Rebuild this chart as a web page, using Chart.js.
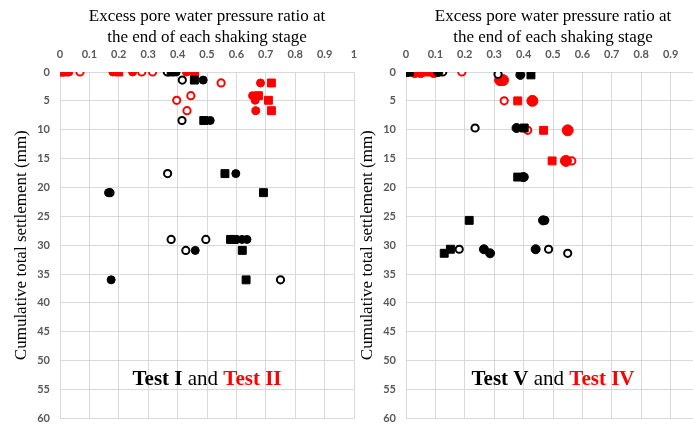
<!DOCTYPE html>
<html>
<head>
<meta charset="utf-8">
<script src="https://cdn.jsdelivr.net/npm/chart.js@4"></script>
<style>
    body { margin: 0; width: 693px; height: 425px; overflow: hidden; position: relative; background: #fff; }
    canvas { position: absolute; top: 0; }
</style>
</head>
<body>
<canvas id="leftChart" width="362" height="425" style="left:0"></canvas>
<canvas id="rightChart" width="362" height="425" style="left:346px"></canvas>
<script>
// Tick labels
const ratioTicks = ['0', '0.1', '0.2', '0.3', '0.4', '0.5', '0.6', '0.7', '0.8', '0.9', '1'];
const settlementTicks = ['0', '5', '10', '15', '20', '25', '30', '35', '40', '45', '50', '55', '60'];

// Test I (black) - excess pore pressure ratio vs settlement (mm)
const test1FilledX = [0.395, 0.487, 0.511, 0.598, 0.165, 0.619, 0.636, 0.46, 0.174];
const test1FilledY = [0, 1.4, 8.4, 17.6, 20.9, 29.0, 29.0, 30.9, 36.0];
const test1SquareX = [0.378, 0.457, 0.489, 0.561, 0.692, 0.58, 0.593, 0.62, 0.633];
const test1SquareY = [0, 1.4, 8.4, 17.6, 20.9, 29.0, 29.0, 30.9, 36.0];
const test1OpenX = [0.365, 0.416, 0.415, 0.366, 0.17, 0.378, 0.496, 0.428, 0.75];
const test1OpenY = [0, 1.4, 8.4, 17.6, 20.9, 29.0, 29.0, 30.9, 36.0];

// Test II (red)
const test2FilledX = [0.03, 0.18, 0.247, 0.43, 0.682, 0.655, 0.664, 0.666];
const test2FilledY = [0, 0, 0, 0, 1.9, 4.1, 4.9, 6.7];
const test2SquareX = [0.0, 0.015, 0.2, 0.458, 0.719, 0.675, 0.709, 0.719];
const test2SquareY = [0, 0, 0, 0, 1.9, 4.1, 4.9, 6.7];
const test2OpenX = [0.068, 0.278, 0.315, 0.548, 0.445, 0.397, 0.432];
const test2OpenY = [0, 0, 0, 1.9, 4.1, 4.9, 6.7];

// Test V (black)
const test5FilledX = [0.005, 0.11, 0.389, 0.376, 0.399, 0.466, 0.265, 0.441, 0.286];
const test5FilledY = [0, 0, 0.5, 9.7, 18.2, 25.7, 30.7, 30.7, 31.4];
const test5SquareX = [0.012, 0.425, 0.402, 0.38, 0.215, 0.151, 0.13];
const test5SquareY = [0, 0.5, 9.7, 18.2, 25.7, 30.7, 31.4];
const test5OpenX = [0.125, 0.313, 0.235, 0.402, 0.472, 0.181, 0.485, 0.55];
const test5OpenY = [0, 0.4, 9.7, 18.2, 25.7, 30.7, 30.7, 31.4];

// Test IV (red)
const test4FilledX = [0.03, 0.05, 0.095, 0.32, 0.33, 0.43, 0.55, 0.544];
const test4FilledY = [0, 0, 0, 1.4, 1.4, 5.0, 10.1, 15.4];
const test4SquareX = [0.015, 0.06, 0.085, 0.38, 0.468, 0.497];
const test4SquareY = [0, 0, 0, 5.0, 10.1, 15.4];
const test4OpenX = [0.19, 0.334, 0.414, 0.564];
const test4OpenY = [0, 5.0, 10.1, 15.4];

const gridColor = '#d9d9d9';
const tickColor = '#595959';
const serif = '"Liberation Serif", "Times New Roman", serif';

function points(xs, ys) {
    return xs.map((x, i) => ({ x: x, y: ys[i] }));
}

// pick the label whose number matches the tick value
function tickLabel(labels, value) {
    const found = labels.find(t => Math.abs(Number(t) - value) < 1e-6);
    return found === undefined ? '' : found;
}

function filledSeries(label, xs, ys, color, radius) {
    return {
        label: label,
        data: points(xs, ys),
        pointStyle: 'circle',
        pointRadius: radius || 4,
        backgroundColor: color,
        borderColor: color,
        borderWidth: 1
    };
}

function squareSeries(label, xs, ys, color) {
    return {
        label: label,
        data: points(xs, ys),
        pointStyle: 'rect',
        pointRadius: 5.6,
        backgroundColor: color,
        borderColor: color,
        borderWidth: 1
    };
}

function openSeries(label, xs, ys, color) {
    return {
        label: label,
        data: points(xs, ys),
        pointStyle: 'circle',
        pointRadius: 3.6,
        backgroundColor: '#ffffff',
        borderColor: color,
        borderWidth: 2
    };
}

// Draws "Test X and Test Y" inside the plot
const testLabelPlugin = {
    id: 'testLabel',
    afterDraw(chart, args, opts) {
        const ctx = chart.ctx;
        const parts = [
            { text: opts.first, bold: true, color: '#000' },
            { text: ' and ', bold: false, color: '#000' },
            { text: opts.second, bold: true, color: '#ff0000' }
        ];
        ctx.save();
        ctx.textBaseline = 'middle';
        let total = 0;
        parts.forEach(p => {
            ctx.font = (p.bold ? 'bold ' : '') + '21px ' + serif;
            p.width = ctx.measureText(p.text).width;
            total += p.width;
        });
        let x = chart.scales.x.getPixelForValue(0.5) - total / 2;
        const y = chart.scales.y.getPixelForValue(53.2);
        parts.forEach(p => {
            ctx.font = (p.bold ? 'bold ' : '') + '21px ' + serif;
            ctx.fillStyle = p.color;
            ctx.fillText(p.text, x, y);
            x += p.width;
        });
        ctx.restore();
    }
};

function createPanel(canvasId, datasets, first, second) {
    const ctx = document.getElementById(canvasId).getContext('2d');
    return new Chart(ctx, {
        type: 'scatter',
        data: { datasets: datasets },
        plugins: [testLabelPlugin],
        options: {
            responsive: false,
            animation: false,
            layout: { padding: { left: 0, right: 8, top: 0, bottom: 5 } },
            plugins: {
                legend: { display: false },
                tooltip: { enabled: false },
                testLabel: { first: first, second: second }
            },
            scales: {
                x: {
                    type: 'linear',
                    position: 'top',
                    min: 0,
                    max: 1,
                    afterFit: (scale) => {
                        scale.height = 72;
                        scale.paddingLeft = 0;
                        scale.paddingRight = 0;
                    },
                    ticks: {
                        stepSize: 0.1,
                        autoSkip: false,
                        maxRotation: 0,
                        padding: 11,
                        color: tickColor,
                        font: { family: 'Lato', weight: 'bold', size: 11 },
                        callback: (value) => tickLabel(ratioTicks, value)
                    },
                    grid: { color: gridColor, lineWidth: 1, drawTicks: false },
                    border: { color: gridColor },
                    title: {
                        display: true,
                        text: ['Excess pore water pressure ratio at', 'the end of each shaking stage'],
                        color: '#000',
                        font: { family: serif, size: 17, lineHeight: 1.18 },
                        padding: { top: 7, bottom: 0 }
                    }
                },
                y: {
                    type: 'linear',
                    reverse: true,
                    min: 0,
                    max: 60,
                    afterFit: (scale) => {
                        scale.width = 60;
                        scale.paddingTop = 0;
                        scale.paddingBottom = 0;
                    },
                    ticks: {
                        stepSize: 5,
                        autoSkip: false,
                        padding: 10,
                        color: tickColor,
                        font: { family: 'Lato', weight: 'bold', size: 11 },
                        callback: (value) => tickLabel(settlementTicks, value)
                    },
                    grid: { color: gridColor, lineWidth: 1, drawTicks: false },
                    border: { color: gridColor },
                    title: {
                        display: true,
                        text: 'Cumulative total settlement (mm)',
                        color: '#000',
                        font: { family: serif, size: 17, lineHeight: 1.18 },
                        padding: { top: 12, bottom: 0 }
                    }
                }
            }
        }
    });
}

// first dataset in the list ends up drawn on top
document.addEventListener('DOMContentLoaded', () => {
    createPanel('leftChart', [
        filledSeries('Test I', test1FilledX, test1FilledY, '#000'),
        squareSeries('Test I', test1SquareX, test1SquareY, '#000'),
        openSeries('Test I', test1OpenX, test1OpenY, '#000'),
        filledSeries('Test II', test2FilledX, test2FilledY, '#ff0000'),
        squareSeries('Test II', test2SquareX, test2SquareY, '#ff0000'),
        openSeries('Test II', test2OpenX, test2OpenY, '#ff0000')
    ], 'Test I', 'Test II');

    createPanel('rightChart', [
        filledSeries('Test V', test5FilledX, test5FilledY, '#000', 4.5),
        squareSeries('Test V', test5SquareX, test5SquareY, '#000'),
        openSeries('Test V', test5OpenX, test5OpenY, '#000'),
        filledSeries('Test IV', test4FilledX, test4FilledY, '#ff0000', 5.5),
        squareSeries('Test IV', test4SquareX, test4SquareY, '#ff0000'),
        openSeries('Test IV', test4OpenX, test4OpenY, '#ff0000')
    ], 'Test V', 'Test IV');
});
</script>
</body>
</html>
